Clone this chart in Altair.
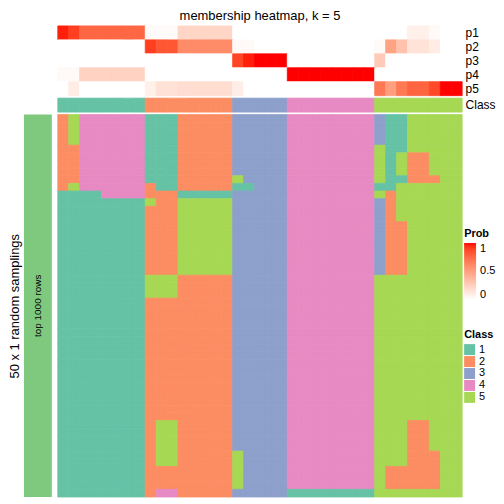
import altair as alt
import pandas as pd

FONT = "Liberation Sans"

col_ids = list(range(37))
prob_names = ["p1", "p2", "p3", "p4", "p5"]

# membership probabilities per column
p1 = [0.97, 0.90, 0.76, 0.76, 0.76, 0.76, 0.76, 0.76,
      0.02, 0.02, 0.02, 0.22, 0.22, 0.22, 0.22, 0.22,
      0, 0, 0, 0, 0,
      0, 0, 0, 0, 0, 0, 0, 0,
      0, 0, 0, 0.08, 0.08, 0.03, 0, 0]
p2 = [0, 0, 0, 0, 0, 0, 0, 0,
      0.90, 0.82, 0.82, 0.60, 0.60, 0.60, 0.60, 0.60,
      0.03, 0.03, 0, 0, 0,
      0, 0, 0, 0, 0, 0, 0, 0,
      0.03, 0.48, 0.32, 0.15, 0.15, 0.10, 0, 0]
p3 = [0, 0, 0, 0, 0, 0, 0, 0,
      0, 0, 0, 0, 0, 0, 0, 0,
      0.88, 0.97, 1, 1, 1,
      0, 0, 0, 0, 0, 0, 0, 0,
      0.28, 0, 0, 0, 0, 0, 0, 0]
p4 = [0.03, 0.03, 0.24, 0.24, 0.24, 0.24, 0.24, 0.24,
      0, 0, 0, 0, 0, 0, 0, 0,
      0, 0, 0, 0, 0,
      1, 1, 1, 1, 1, 1, 1, 1,
      0, 0, 0, 0, 0, 0, 0, 0]
p5 = [0, 0.10, 0, 0, 0, 0, 0, 0,
      0.08, 0.16, 0.16, 0.18, 0.18, 0.18, 0.18, 0.18,
      0.09, 0, 0, 0, 0,
      0, 0, 0, 0, 0, 0, 0, 0,
      0.69, 0.50, 0.68, 0.77, 0.77, 0.87, 1, 1]

annot_class = [1, 1, 1, 1, 1, 1, 1, 1,
               2, 2, 2, 2, 2, 2, 2, 2,
               3, 3, 3, 3, 3,
               4, 4, 4, 4, 4, 4, 4, 4,
               5, 5, 5, 5, 5, 5, 5, 5]

# body: per column, runs of (class, number of rows) from top to bottom (50 rows)
body_runs = [
    [(2, 10), (1, 40)],
    [(5, 4), (2, 5), (5, 1), (1, 40)],
    [(4, 10), (1, 40)],
    [(4, 10), (1, 40)],
    [(4, 11), (1, 39)],
    [(4, 11), (1, 39)],
    [(4, 11), (1, 39)],
    [(4, 11), (1, 39)],
    [(1, 9), (2, 2), (5, 1), (2, 9), (5, 3), (2, 26)],
    [(1, 10), (2, 11), (5, 3), (2, 16), (5, 6), (2, 3), (4, 1)],
    [(1, 10), (2, 11), (5, 3), (2, 16), (5, 6), (2, 3), (4, 1)],
    [(2, 10), (1, 1), (5, 10), (2, 29)],
    [(2, 10), (1, 1), (5, 10), (2, 29)],
    [(2, 10), (1, 1), (5, 10), (2, 29)],
    [(2, 10), (1, 1), (5, 10), (2, 29)],
    [(2, 10), (1, 1), (5, 10), (2, 29)],
    [(3, 8), (5, 1), (1, 1), (3, 34), (5, 5), (3, 1)],
    [(3, 9), (1, 1), (3, 40)],
    [(3, 50)],
    [(3, 50)],
    [(3, 50)],
    [(4, 49), (1, 1)],
    [(4, 49), (1, 1)],
    [(4, 49), (1, 1)],
    [(4, 49), (1, 1)],
    [(4, 49), (1, 1)],
    [(4, 49), (1, 1)],
    [(4, 49), (1, 1)],
    [(4, 49), (1, 1)],
    [(3, 4), (5, 5), (1, 1), (5, 1), (3, 10), (5, 29)],
    [(1, 10), (2, 11), (5, 25), (2, 3), (5, 1)],
    [(1, 5), (5, 3), (1, 1), (5, 5), (2, 7), (5, 25), (2, 3), (5, 1)],
    [(5, 5), (2, 4), (5, 31), (2, 9), (5, 1)],
    [(5, 5), (2, 4), (5, 31), (2, 9), (5, 1)],
    [(5, 8), (2, 1), (5, 35), (2, 5), (5, 1)],
    [(5, 50)],
    [(5, 50)],
]

class_labels = ["1", "2", "3", "4", "5"]
class_colors = ["#66C2A5", "#FC8D62", "#8DA0CB", "#E78AC3", "#A6D854"]

# ---- data frames ----
prob_rows = []
for name, vals in zip(prob_names, [p1, p2, p3, p4, p5]):
    for c in col_ids:
        # edge colour uses the same value expressed in percent (own scale, no legend)
        prob_rows.append({"col": c, "pname": name, "prob": vals[c], "prob_pct": vals[c] * 100})
prob_df = pd.DataFrame(prob_rows)

cls_df = pd.DataFrame({"col": col_ids, "lab": ["Class"] * len(col_ids),
                       "cls": [str(v) for v in annot_class],
                       "cls_edge": [str(v) for v in annot_class]})

body_rows = []
for c, runs in enumerate(body_runs):
    r = 0
    for k, n in runs:
        for _ in range(n):
            body_rows.append({"col": c, "row": r, "cls": str(k), "cls_edge": str(k)})
            r += 1
body_df = pd.DataFrame(body_rows)

band = alt.Scale(paddingInner=0, paddingOuter=0)
class_scale = alt.Scale(domain=class_labels, range=class_colors)
prob_scale = alt.Scale(domain=[0, 1], range=["#FFFFFF", "#FF0000"], interpolate="lab")
prob_edge_scale = alt.Scale(domain=[0, 100], range=["#FFFFFF", "#FF0000"], interpolate="lab")

top = alt.Chart(
    prob_df,
    title=alt.Title("membership heatmap, k = 5", fontSize=13, fontWeight="normal",
                    font=FONT, anchor="middle", offset=3, color="black"),
).mark_rect(strokeWidth=0.8).encode(
    x=alt.X("col:O", axis=None, scale=band),
    y=alt.Y("pname:N", sort=prob_names, scale=band,
            axis=alt.Axis(orient="right", title=None, ticks=False, domain=False,
                          labelFontSize=12, labelPadding=3, labelFont=FONT,
                          labelColor="black")),
    color=alt.Color("prob:Q", scale=prob_scale,
                    legend=alt.Legend(title="Prob", orient="none",
                                      legendX=408, legendY=203,
                                      values=[0, 0.5, 1], format="~g",
                                      direction="vertical", gradientLength=57,
                                      gradientThickness=12, titleFont=FONT,
                                      titleFontSize=11, titleFontWeight="bold",
                                      labelFont=FONT, labelFontSize=11,
                                      titleColor="black", labelColor="black",
                                      gradientStrokeWidth=0, labelOffset=4,
                                      titlePadding=4)),
    stroke=alt.Stroke("prob_pct:Q", scale=prob_edge_scale, legend=None),
).properties(width=406, height=70)

cls_chart = alt.Chart(cls_df).mark_rect(strokeWidth=0.8).encode(
    x=alt.X("col:O", axis=None, scale=band),
    y=alt.Y("lab:N", scale=band,
            axis=alt.Axis(orient="right", title=None, ticks=False, domain=False,
                          labelFontSize=12, labelPadding=3, labelFont=FONT,
                          labelColor="black")),
    color=alt.Color("cls:N", scale=class_scale,
                    legend=alt.Legend(title="Class", orient="none", legendX=408, legendY=232,
                                      symbolType="square", symbolSize=121,
                                      symbolStrokeWidth=0, rowPadding=0,
                                      titleFont=FONT, titleFontSize=11,
                                      titleFontWeight="bold", labelFont=FONT,
                                      labelFontSize=11, titleColor="black",
                                      labelColor="black", titlePadding=4)),
    stroke=alt.Stroke("cls_edge:N", scale=class_scale, legend=None),
).properties(width=406, height=14)

body = alt.Chart(body_df).mark_rect(strokeWidth=0.8).encode(
    x=alt.X("col:O", axis=None, scale=band),
    y=alt.Y("row:O", axis=None, scale=band),
    color=alt.Color("cls:N", scale=class_scale, legend=None),
    stroke=alt.Stroke("cls_edge:N", scale=class_scale, legend=None),
).properties(width=406, height=384)

side_df = pd.DataFrame({"k": ["a"], "lab": ["top 1000 rows"]})
side_base = alt.Chart(side_df).encode(
    x=alt.X("k:N", axis=None, scale=band),
    y=alt.Y("k:N", scale=band,
            axis=alt.Axis(title="50 x 1 random samplings", labels=False, ticks=False,
                          domain=False, titleFontSize=13, titleFontWeight="normal",
                          titleFont=FONT, titlePadding=2, titleColor="black")),
)
side = alt.layer(
    side_base.mark_rect(color="#7FC97F"),
    side_base.mark_text(angle=270, fontSize=10, font=FONT, color="black").encode(text="lab:N"),
).properties(width=28, height=384)


def blank(h):
    return alt.Chart(pd.DataFrame({"v": [0]})).mark_point(opacity=0).encode(
        x=alt.X("v:Q", axis=None), y=alt.Y("v:Q", axis=None)
    ).properties(width=28, height=h)


chart = alt.concat(
    blank(70), top, blank(14), cls_chart, side, body,
    columns=2, spacing={"row": 2.5, "column": 6}, bounds="flush",
).resolve_scale(color="independent", stroke="independent").properties(
    padding={"left": 1, "top": 0, "right": 0, "bottom": 0}
).configure_view(stroke=None)

chart.save("out.html", embed_options={"renderer": "svg", "actions": False})
